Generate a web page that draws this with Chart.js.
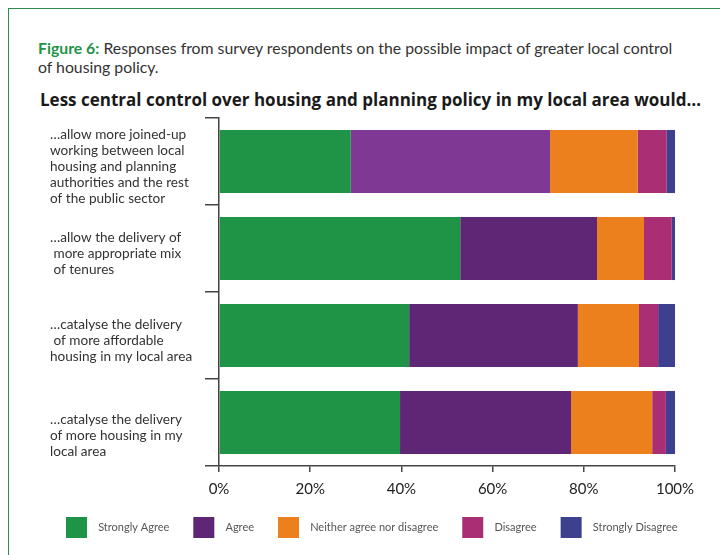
<!DOCTYPE html>
<html>
<head>
<meta charset="utf-8">
<script src="https://cdn.jsdelivr.net/npm/chart.js@4.4.1/dist/chart.umd.min.js"></script>
<style>
  html, body { margin: 0; padding: 0; background: #fff; }
  body { width: 720px; height: 555px; overflow: hidden; position: relative; font-family: Lato, "DejaVu Sans", sans-serif; }
  .frame { position: absolute; left: 8px; top: 8px; width: 720px; height: 560px; border-left: 1.5px solid #2f8a4c; border-top: 1.5px solid #2f8a4c; }
  .caption { position: absolute; left: 38px; top: 38px; font-size: 15.8px; line-height: 19px; color: #333; white-space: nowrap; }
  .caption b { color: #1f9446; font-weight: bold; }
  .heading { position: absolute; left: 40px; top: 89px; font-family: "Open Sans", sans-serif; font-size: 17px; line-height: 22px; font-weight: bold; color: #1a1a1a; white-space: nowrap; }
  .plot { position: absolute; left: 0; top: 110px; width: 720px; height: 451px; }
</style>
</head>
<body>
<div class="frame"></div>
<div class="caption"><b>Figure 6:</b> Responses from survey respondents on the possible impact of greater local control<br>of housing policy.</div>
<div class="heading">Less central control over housing and planning policy in my local area would…</div>
<div class="plot"><canvas id="chart"></canvas></div>
<script>
// Statements (each one a stacked bar), wrapped onto lines;
// the last one starts with a blank line so it sits a little lower
const statements = [
  ["…allow more joined-up", "working between local", "housing and planning", "authorities and the rest", "of the public sector"],
  ["…allow the delivery of", " more appropriate mix", " of tenures"],
  ["…catalyse the delivery", " of more affordable", "housing in my local area"],
  ["", "…catalyse the delivery", "of more housing in my", "local area"]
];

// Share of respondents (%) per response, in statement order
const stronglyAgree    = [28.9, 52.9, 41.7, 39.7];
const agree            = [43.7, 30.0, 37.0, 37.5];
const neither          = [19.2, 10.3, 13.4, 17.8];
const disagree         = [6.4, 6.1, 4.2, 3.0];
const stronglyDisagree = [1.8, 0.7, 3.7, 2.0];

const responseNames = ["Strongly Agree", "Agree", "Neither agree nor disagree", "Disagree", "Strongly Disagree"];
const xTicks = [0, 20, 40, 60, 80, 100];

const GREEN = "#1f9446", PURPLE = "#5f2675", PURPLE_LIGHT = "#7f3893",
      ORANGE = "#ec801c", MAGENTA = "#a92e73", INDIGO = "#3d3f8f";
const legendColours = [GREEN, PURPLE, ORANGE, MAGENTA, INDIGO];

const datasets = [
  { label: responseNames[0], data: stronglyAgree, backgroundColor: GREEN },
  { label: responseNames[1], data: agree, backgroundColor: [PURPLE_LIGHT, PURPLE, PURPLE, PURPLE] },
  { label: responseNames[2], data: neither, backgroundColor: ORANGE },
  { label: responseNames[3], data: disagree, backgroundColor: MAGENTA },
  { label: responseNames[4], data: stronglyDisagree, backgroundColor: INDIGO }
].map(d => Object.assign(d, { borderWidth: 0, barPercentage: 0.725, categoryPercentage: 1 }));

// Nudge the legend row left and up, closer to the frame and the axis
const legendInset = {
  id: "legendInset",
  afterLayout(chart) {
    const lg = chart.legend;
    if (lg) {
      lg.left -= 8; lg.right -= 8;
      lg.top -= 13; lg.bottom -= 13;
    }
  }
};

new Chart(document.getElementById("chart"), {
  type: "bar",
  data: { labels: statements, datasets },
  plugins: [legendInset],
  options: {
    indexAxis: "y",
    responsive: true,
    maintainAspectRatio: false,
    animation: false,
    layout: { padding: { left: 50, right: 0, top: 8, bottom: 0 } },
    plugins: {
      tooltip: { enabled: false },
      legend: {
        position: "bottom",
        align: "start",
        labels: {
          boxWidth: 21,
          boxHeight: 21,
          padding: 24,
          color: "#555",
          font: { family: "Lato", size: 11 },
          generateLabels(chart) {
            return Chart.defaults.plugins.legend.labels.generateLabels(chart).map((item, i) => {
              item.text = "  " + item.text;
              item.fillStyle = legendColours[i];
              item.strokeStyle = legendColours[i];
              item.lineWidth = 0;
              return item;
            });
          }
        }
      }
    },
    scales: {
      x: {
        stacked: true,
        min: 0,
        max: 100,
        afterBuildTicks(scale) { scale.ticks = xTicks.map(v => ({ value: v })); },
        afterFit(scale) { scale.paddingRight = 45; },
        ticks: {
          callback: v => v + "%",
          color: "#222",
          padding: 8,
          maxRotation: 0,
          font: { family: "Lato", size: 15 }
        },
        grid: { drawOnChartArea: false, drawTicks: true, tickLength: 6, color: "#444", lineWidth: 1.5 },
        border: { color: "#444", width: 1.5 }
      },
      y: {
        stacked: true,
        afterFit(scale) {
          scale.width = 169;
          scale.paddingTop = 0;
          scale.paddingBottom = 0;
        },
        ticks: {
          autoSkip: false,
          crossAlign: "far",
          labelOffset: 5,
          color: "#333",
          font: { family: "Lato", size: 13.6, lineHeight: 1.17 }
        },
        grid: { drawOnChartArea: false, drawTicks: true, tickLength: 14, color: "#444", lineWidth: 1.5 },
        border: { color: "#444", width: 1.5 }
      }
    }
  }
});
</script>
</body>
</html>
